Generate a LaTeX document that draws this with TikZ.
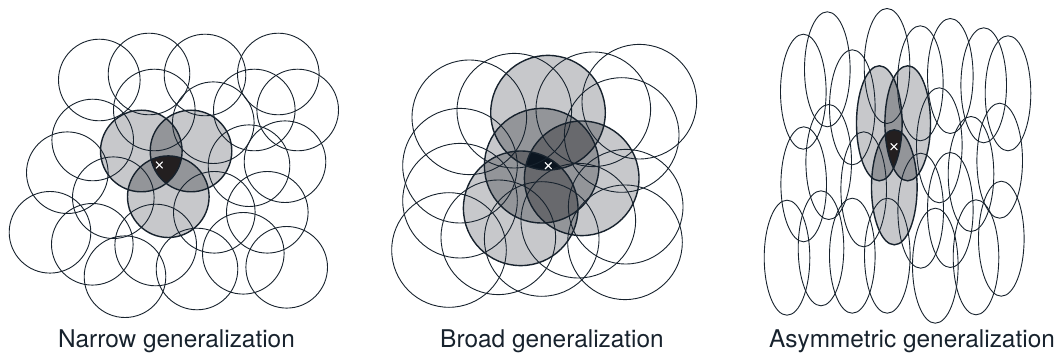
\documentclass[tikz,border=0pt]{standalone}
\usepackage{fontspec}
\setmainfont{TeX Gyre Heros}
\usetikzlibrary{shapes.misc}
\definecolor{ink}{HTML}{17222D}
\definecolor{gA}{HTML}{C7C8CB}
\definecolor{gB}{HTML}{939599}
\definecolor{gC}{HTML}{68696D}
\definecolor{coreA}{HTML}{231F20}
\definecolor{coreB}{HTML}{0B1520}
\tikzset{
  ring/.style={draw=ink, line width=0.9pt},
  shring/.style={draw=ink, line width=1.4pt},
  lab/.style={font=\fontsize{24.4}{29}\selectfont, text=ink, anchor=base, inner sep=0pt},
  xmark/.style={cross out, draw=white, line width=1.1pt, minimum size=5.5pt, inner sep=0pt},
}
\def\ra{40.8pt}
\def\rb{57.3pt}
\def\ell{[x radius=22.8pt, y radius=57.5pt]}
\begin{document}
\begin{tikzpicture}[x=1pt,y=-1pt]
\useasboundingbox (0,0) rectangle (1057,355);

% ---------------- Panel 1: narrow ----------------
\coordinate (n1) at (141.3,151);
\coordinate (n2) at (191,151);
\coordinate (n3) at (168.3,196.7);
\foreach \c in {n1,n2,n3} \fill[gA] (\c) circle[radius=\ra];
\begin{scope}\clip (n1) circle[radius=\ra];
  \fill[gB] (n2) circle[radius=\ra]; \fill[gB] (n3) circle[radius=\ra];
\end{scope}
\begin{scope}\clip (n2) circle[radius=\ra];
  \fill[gB] (n3) circle[radius=\ra];
\end{scope}
\begin{scope}\clip (n1) circle[radius=\ra]; \clip (n2) circle[radius=\ra];
  \fill[coreA] (n3) circle[radius=\ra];
\end{scope}
\foreach \p in {(99.3,80),(149,74),(205,75),(278.3,74),(154.3,110),(213.3,122.7),
  (254.3,110),(297.7,110),(92.7,140),(67.3,172.7),(285,161.7),(249,165.7),
  (113.3,197.7),(214.3,212.3),(267.3,212.3),(50,232.3),(92.3,244.3),(155.7,245),
  (243.3,253.3),(125,276.7),(197,269),(286.7,267.3)}
  \draw[ring] \p circle[radius=\ra];
\foreach \c in {n1,n2,n3} \draw[shring] (\c) circle[radius=\ra];
\node[xmark] (x1) at (159.3,165) {};

% ---------------- Panel 2: broad ----------------
\coordinate (m1) at (548,112.7);
\coordinate (m2) at (541.7,165.7);
\coordinate (m3) at (581.7,178.3);
\coordinate (m4) at (520.7,208.3);
\foreach \c in {m1,m2,m3,m4} \fill[gA] (\c) circle[radius=\rb];
\begin{scope}\clip (m1) circle[radius=\rb];
  \fill[gB] (m2) circle[radius=\rb]; \fill[gB] (m3) circle[radius=\rb]; \fill[gB] (m4) circle[radius=\rb];
\end{scope}
\begin{scope}\clip (m2) circle[radius=\rb];
  \fill[gB] (m3) circle[radius=\rb]; \fill[gB] (m4) circle[radius=\rb];
\end{scope}
\begin{scope}\clip (m3) circle[radius=\rb];
  \fill[gB] (m4) circle[radius=\rb];
\end{scope}
\begin{scope}\clip (m1) circle[radius=\rb]; \clip (m2) circle[radius=\rb];
  \fill[gC] (m3) circle[radius=\rb]; \fill[gC] (m4) circle[radius=\rb];
\end{scope}
\begin{scope}\clip (m1) circle[radius=\rb]; \clip (m3) circle[radius=\rb];
  \fill[gC] (m4) circle[radius=\rb];
\end{scope}
\begin{scope}\clip (m2) circle[radius=\rb]; \clip (m3) circle[radius=\rb];
  \fill[gC] (m4) circle[radius=\rb];
\end{scope}
\begin{scope}\clip (m1) circle[radius=\rb]; \clip (m2) circle[radius=\rb]; \clip (m3) circle[radius=\rb];
  \fill[coreB] (m4) circle[radius=\rb];
\end{scope}
\foreach \p in {(469.3,117.3),(514.3,110.7),(593.3,109.3),(639.3,101.7),(621.7,135),
  (460,165.7),(460,200.7),(625.7,206.7),(449,250),(498.3,237.3),(541.7,239),
  (578.3,220.7),(625,242.3)}
  \draw[ring] \p circle[radius=\rb];
\foreach \c in {m1,m2,m3,m4} \draw[shring] (\c) circle[radius=\rb];
\node[xmark] (x2) at (548.3,165.7) {};

% ---------------- Panel 3: asymmetric ----------------
\coordinate (e1) at (879.3,123.3);
\coordinate (e2) at (907.7,123.3);
\coordinate (e3) at (894.3,187.3);
\foreach \c in {e1,e2,e3} \fill[gA] (\c) ellipse\ell;
\begin{scope}\clip (e1) ellipse\ell;
  \fill[gB] (e2) ellipse\ell; \fill[gB] (e3) ellipse\ell;
\end{scope}
\begin{scope}\clip (e2) ellipse\ell;
  \fill[gB] (e3) ellipse\ell;
\end{scope}
\begin{scope}\clip (e1) ellipse\ell; \clip (e2) ellipse\ell;
  \fill[coreA] (e3) ellipse\ell;
\end{scope}
\foreach \p in {(803.3,91.7),(827.3,69.3),(852.3,107.3),(887,66),(920.3,83.3),
  (950.3,76),(983.7,85.3),(1008,93.3),(828.7,162),(803.7,184.3),(863.7,189.3),
  (939.3,145.3),(950.3,210),(971,174),(999.7,160.7),(920.7,210.7),(787,257.7),
  (821,248.3),(852.3,255.7),(887.3,255.7),(935.3,265.7),(976,257.3),(1001.3,238.7)}
  \draw[ring] \p ellipse\ell;
\foreach \c in {e1,e2,e3} \draw[shring] (\c) ellipse\ell;
\node[xmark] (x3) at (894,146.7) {};

% ---------------- Labels ----------------
\node[lab] (t1) at (176.5,347.5) {Narrow generalization};
\node[lab] (t2) at (552,347.5) {Broad generalization};
\node[lab] (t3) at (912,347.5) {Asymmetric generalization};
\end{tikzpicture}
\end{document}
